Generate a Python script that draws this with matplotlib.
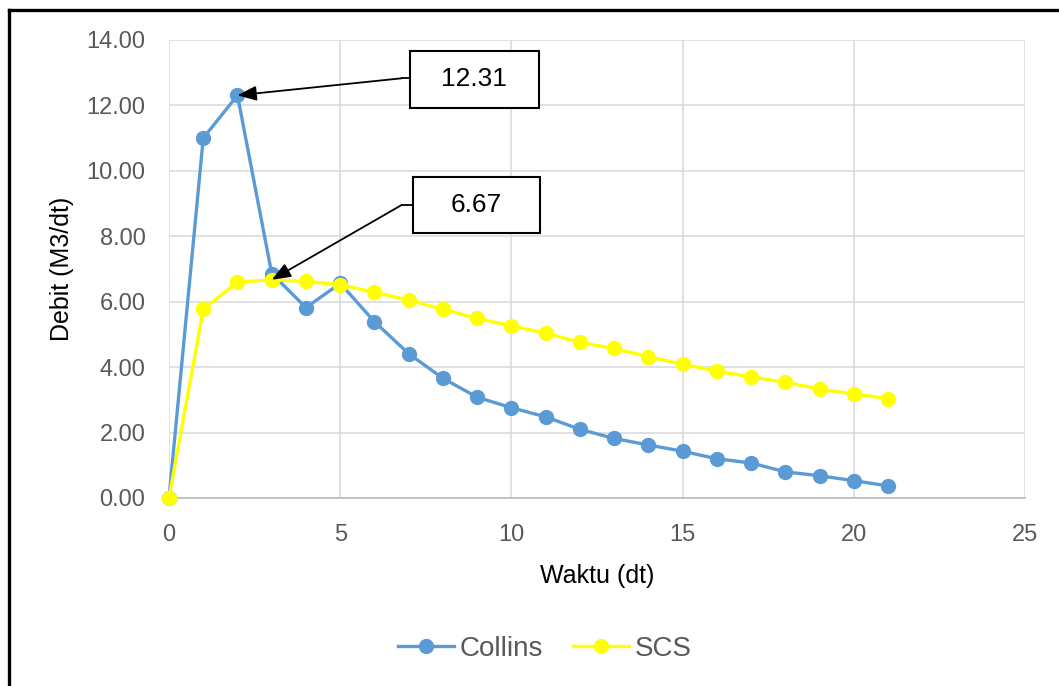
import matplotlib.pyplot as plt
from matplotlib.patches import Rectangle
from matplotlib.lines import Line2D

# ── DATA ─────────────────────────────────────────
waktu = list(range(22))
collins = [0.00, 11.00, 12.31, 6.86, 5.82, 6.56, 5.39, 4.41, 3.66, 3.08, 2.76,
           2.48, 2.10, 1.82, 1.62, 1.43, 1.20, 1.07, 0.80, 0.68, 0.53, 0.37]
scs = [0.00, 5.77, 6.60, 6.67, 6.62, 6.52, 6.29, 6.05, 5.77, 5.49, 5.26,
       5.04, 4.76, 4.57, 4.32, 4.09, 3.88, 3.70, 3.54, 3.33, 3.18, 3.04]
x_ticks = [0, 5, 10, 15, 20, 25]
y_ticks = [0, 2, 4, 6, 8, 10, 12, 14]

BIRU = "#5B9BD5"
KUNING = "#FFFF00"
ABU = "#595959"

plt.rcParams['font.family'] = ['Liberation Sans', 'DejaVu Sans']

fig = plt.figure(figsize=(10.59, 6.86), dpi=100)
W, H = 1059, 686
ax = fig.add_axes([169 / W, 1 - 498 / H, (1025 - 169) / W, (498 - 40) / H])

ax.plot(waktu, collins, color=BIRU, lw=2.4, marker="o", ms=10, label="Collins",
        zorder=3, clip_on=False)
ax.plot(waktu, scs, color=KUNING, lw=2.4, marker="o", ms=10, label="SCS",
        zorder=4, clip_on=False)

ax.set_xlim(0, 25)
ax.set_ylim(0, 14)
ax.set_xticks(x_ticks)
ax.set_yticks(y_ticks)
ax.set_yticklabels([f"{v:.2f}" for v in y_ticks])
ax.tick_params(length=0, labelsize=17, colors=ABU)
ax.tick_params(axis="x", pad=19)
ax.tick_params(axis="y", pad=17)
ax.grid(True, color="#D9D9D9", lw=1.1)
ax.set_axisbelow(True)
for s in ["left", "right", "top"]:
    ax.spines[s].set_visible(False)
ax.spines["bottom"].set_color("#BFBFBF")
ax.spines["bottom"].set_linewidth(1.3)

ax.set_xlabel("Waktu (dt)", fontsize=18, color="black", labelpad=13)
ax.set_ylabel("Debit (M3/dt)", fontsize=18, color="black", labelpad=9)

# ── CALLOUTS ─────────────────────────────────────
def callout(teks, kotak, siku, titik):
    x0, y0, x1, y1 = kotak
    ax.add_patch(Rectangle((x0, y0), x1 - x0, y1 - y0, fill=True, fc="white",
                           ec="black", lw=1.5, zorder=6, clip_on=False))
    ax.text((x0 + x1) / 2, (y0 + y1) / 2, teks, ha="center", va="center",
            fontsize=19, color="black", zorder=7)
    ax.plot([x0, siku[0]], [siku[1], siku[1]], color="black", lw=1.3, zorder=6)
    ax.annotate("", xy=titik, xytext=siku,
                arrowprops=dict(arrowstyle="-|>,head_length=1.15,head_width=0.45",
                                color="black", lw=1.3, shrinkA=0, shrinkB=0), zorder=6)

i1 = collins.index(max(collins))
i2 = scs.index(max(scs))
callout(f"{collins[i1]:.2f}", (7.04, 11.93, 10.8, 13.67), (6.8, 12.83), (waktu[i1], collins[i1]))
callout(f"{scs[i2]:.2f}", (7.13, 8.10, 10.84, 9.82), (6.8, 8.96), (waktu[i2], scs[i2]))

# ── LEGEND ───────────────────────────────────────
leg = fig.legend(loc="center", bbox_to_anchor=(545 / W, 1 - 649 / H), ncol=2,
                 frameon=False, fontsize=20, handlelength=2.0, columnspacing=1.1,
                 handletextpad=0.2)
for t in leg.get_texts():
    t.set_color(ABU)

# ── BORDER ───────────────────────────────────────
fig.add_artist(Line2D([9 / W, 9 / W], [0, 1 - 10 / H], color="black", lw=2.4))
fig.add_artist(Line2D([9 / W, 1], [1 - 10 / H, 1 - 10 / H], color="black", lw=2.4))

fig.savefig("out.png", dpi=100)
